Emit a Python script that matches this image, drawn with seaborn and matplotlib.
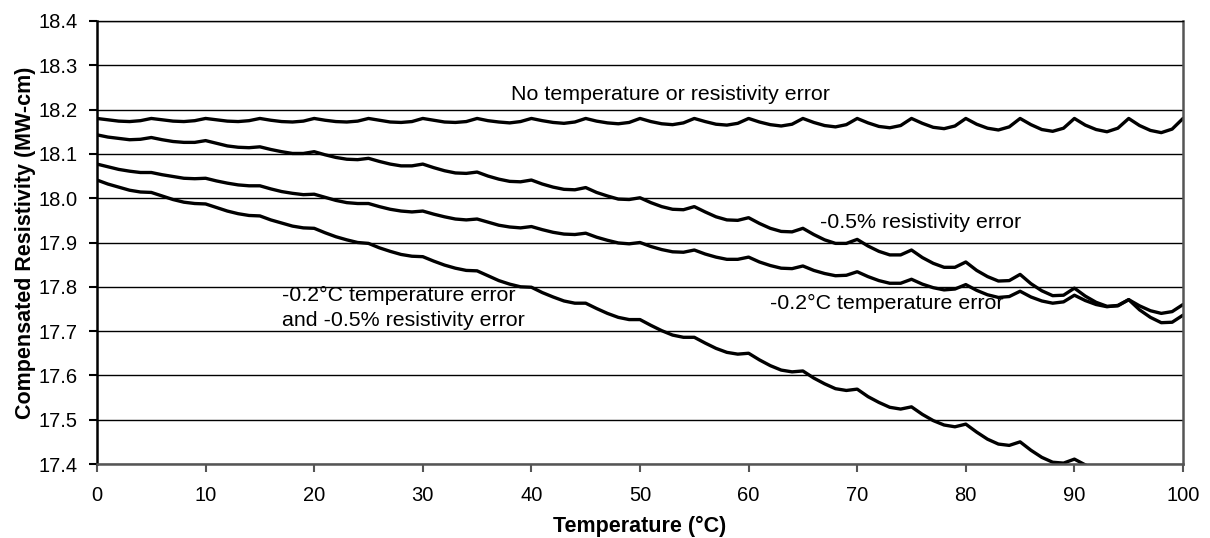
import matplotlib
matplotlib.use("Agg")
import matplotlib.pyplot as plt
import seaborn as sns
import pandas as pd
import numpy as np

temperature = list(range(0, 101))

no_error = [
    18.180, 18.177, 18.174, 18.173, 18.175,
    18.180, 18.177, 18.174, 18.173, 18.175,
    18.180, 18.177, 18.174, 18.173, 18.175,
    18.180, 18.176, 18.173, 18.172, 18.174,
    18.180, 18.176, 18.173, 18.172, 18.174,
    18.180, 18.176, 18.172, 18.171, 18.173,
    18.180, 18.176, 18.172, 18.171, 18.173,
    18.180, 18.175, 18.172, 18.170, 18.173,
    18.180, 18.175, 18.171, 18.169, 18.172,
    18.180, 18.174, 18.170, 18.168, 18.171,
    18.180, 18.173, 18.168, 18.166, 18.170,
    18.180, 18.173, 18.167, 18.165, 18.169,
    18.180, 18.172, 18.166, 18.163, 18.167,
    18.180, 18.171, 18.164, 18.161, 18.166,
    18.180, 18.170, 18.162, 18.159, 18.164,
    18.180, 18.169, 18.160, 18.157, 18.163,
    18.180, 18.167, 18.158, 18.154, 18.161,
    18.180, 18.166, 18.155, 18.151, 18.158,
    18.180, 18.165, 18.155, 18.150, 18.158,
    18.180, 18.164, 18.153, 18.148, 18.156,
    18.180,
]

resistivity_error = [
    18.143, 18.138, 18.135, 18.132, 18.133,
    18.137, 18.132, 18.128, 18.126, 18.126,
    18.130, 18.124, 18.118, 18.115, 18.114,
    18.116, 18.110, 18.105, 18.101, 18.101,
    18.105, 18.098, 18.092, 18.088, 18.087,
    18.090, 18.083, 18.077, 18.073, 18.073,
    18.077, 18.069, 18.062, 18.057, 18.056,
    18.059, 18.050, 18.043, 18.038, 18.037,
    18.041, 18.032, 18.025, 18.020, 18.019,
    18.024, 18.013, 18.005, 17.998, 17.997,
    18.001, 17.990, 17.981, 17.975, 17.974,
    17.981, 17.969, 17.958, 17.951, 17.950,
    17.956, 17.943, 17.932, 17.925, 17.924,
    17.932, 17.918, 17.906, 17.898, 17.898,
    17.907, 17.892, 17.880, 17.872, 17.872,
    17.883, 17.866, 17.853, 17.844, 17.844,
    17.856, 17.837, 17.823, 17.813, 17.814,
    17.828, 17.807, 17.791, 17.780, 17.781,
    17.797, 17.779, 17.765, 17.756, 17.757,
    17.771, 17.748, 17.731, 17.719, 17.720,
    17.736,
]

temperature_error = [
    18.077, 18.071, 18.065, 18.061, 18.058,
    18.058, 18.053, 18.049, 18.045, 18.044,
    18.045, 18.039, 18.034, 18.030, 18.028,
    18.028, 18.021, 18.015, 18.011, 18.008,
    18.009, 18.002, 17.995, 17.990, 17.988,
    17.988, 17.981, 17.975, 17.971, 17.969,
    17.971, 17.964, 17.958, 17.953, 17.951,
    17.953, 17.946, 17.939, 17.935, 17.933,
    17.936, 17.929, 17.923, 17.919, 17.918,
    17.921, 17.912, 17.905, 17.899, 17.897,
    17.900, 17.891, 17.884, 17.879, 17.878,
    17.883, 17.874, 17.867, 17.862, 17.862,
    17.867, 17.856, 17.848, 17.842, 17.841,
    17.847, 17.837, 17.830, 17.825, 17.826,
    17.834, 17.823, 17.814, 17.808, 17.808,
    17.817, 17.806, 17.798, 17.793, 17.795,
    17.805, 17.792, 17.782, 17.776, 17.778,
    17.790, 17.777, 17.768, 17.763, 17.766,
    17.781, 17.769, 17.760, 17.755, 17.758,
    17.771, 17.757, 17.746, 17.740, 17.744,
    17.760,
]

both_errors = [
    18.041, 18.032, 18.025, 18.018, 18.014,
    18.013, 18.005, 17.997, 17.991, 17.988,
    17.987, 17.979, 17.971, 17.965, 17.961,
    17.960, 17.951, 17.944, 17.937, 17.933,
    17.932, 17.922, 17.913, 17.906, 17.900,
    17.898, 17.888, 17.880, 17.873, 17.869,
    17.868, 17.858, 17.849, 17.842, 17.837,
    17.836, 17.825, 17.814, 17.806, 17.800,
    17.799, 17.787, 17.777, 17.768, 17.763,
    17.763, 17.751, 17.740, 17.731, 17.726,
    17.726, 17.713, 17.701, 17.691, 17.686,
    17.686, 17.673, 17.661, 17.652, 17.648,
    17.650, 17.635, 17.622, 17.612, 17.608,
    17.610, 17.594, 17.581, 17.570, 17.566,
    17.569, 17.552, 17.539, 17.528, 17.524,
    17.529, 17.512, 17.498, 17.488, 17.484,
    17.490, 17.472, 17.456, 17.445, 17.442,
    17.450, 17.431, 17.415, 17.404, 17.402,
    17.411, 17.398, 17.385,
]

y_ticks = [17.4, 17.5, 17.6, 17.7, 17.8, 17.9, 18.0, 18.1, 18.2, 18.3, 18.4]
x_ticks = [0, 10, 20, 30, 40, 50, 60, 70, 80, 90, 100]

series = {
    "No temperature or resistivity error": no_error,
    "-0.5% resistivity error": resistivity_error,
    "-0.2°C temperature error": temperature_error,
    "-0.2°C temperature error and -0.5% resistivity error": both_errors,
}

frames = []
for name, vals in series.items():
    frames.append(pd.DataFrame({"Temperature": temperature[:len(vals)],
                                "Resistivity": vals, "Series": name}))
df = pd.concat(frames, ignore_index=True)

sns.set_theme(style="white")
plt.rcParams['font.family'] = ['Liberation Sans', 'DejaVu Sans']
plt.rcParams['text.color'] = 'black'
plt.rcParams['axes.labelcolor'] = 'black'

fig, ax = plt.subplots(figsize=(12.1, 5.38), dpi=100)
fig.subplots_adjust(left=97/1210, right=1183/1210, top=1-21/538, bottom=1-464/538)

for name in series:
    sub = df[df["Series"] == name]
    sns.lineplot(data=sub, x="Temperature", y="Resistivity", ax=ax,
                 color="black", lw=2.4, estimator=None, sort=False, legend=False)

ax.set_xlim(0, 100)
ax.set_ylim(17.4, 18.4)
ax.set_xticks(x_ticks)
ax.set_xticklabels([str(t) for t in x_ticks])
ax.set_yticks(y_ticks)
ax.set_yticklabels([f"{t:.1f}" for t in y_ticks])
ax.yaxis.grid(True, color="black", lw=1.0)
ax.xaxis.grid(False)
ax.set_axisbelow(True)

ax.tick_params(axis="x", direction="out", length=6, width=1.5, color="#555555",
               labelcolor="black", labelsize=14.5, pad=10, bottom=True)
ax.tick_params(axis="y", direction="out", length=6, width=1.5, color="black",
               labelcolor="black", labelsize=14.5, pad=8, left=True)

ax.spines["left"].set_color("black")
ax.spines["left"].set_linewidth(1.8)
ax.spines["bottom"].set_color("#555555")
ax.spines["bottom"].set_linewidth(1.8)
ax.spines["right"].set_color("#555555")
ax.spines["right"].set_linewidth(1.8)
ax.spines["top"].set_color("black")
ax.spines["top"].set_linewidth(1.0)

ax.set_xlabel("Temperature (°C)", fontsize=15.5, fontweight="bold", labelpad=8,
              color="black")
ax.set_ylabel("Compensated Resistivity (MW-cm)", fontsize=15.5, fontweight="bold",
              labelpad=2, color="black")

ax.text(38.1, 18.233, "No temperature or resistivity error", fontsize=15.4,
        ha="left", va="center", color="black")
ax.text(66.6, 17.946, "-0.5% resistivity error", fontsize=15.4, ha="left",
        va="center", color="black")
ax.text(62.0, 17.763, "-0.2°C temperature error", fontsize=15.4, ha="left",
        va="center", color="black")
ax.text(17.05, 17.752, "-0.2°C temperature error\nand -0.5% resistivity error",
        fontsize=15.4, ha="left", va="center", linespacing=1.35, color="black")

fig.savefig("out.png", dpi=100)
